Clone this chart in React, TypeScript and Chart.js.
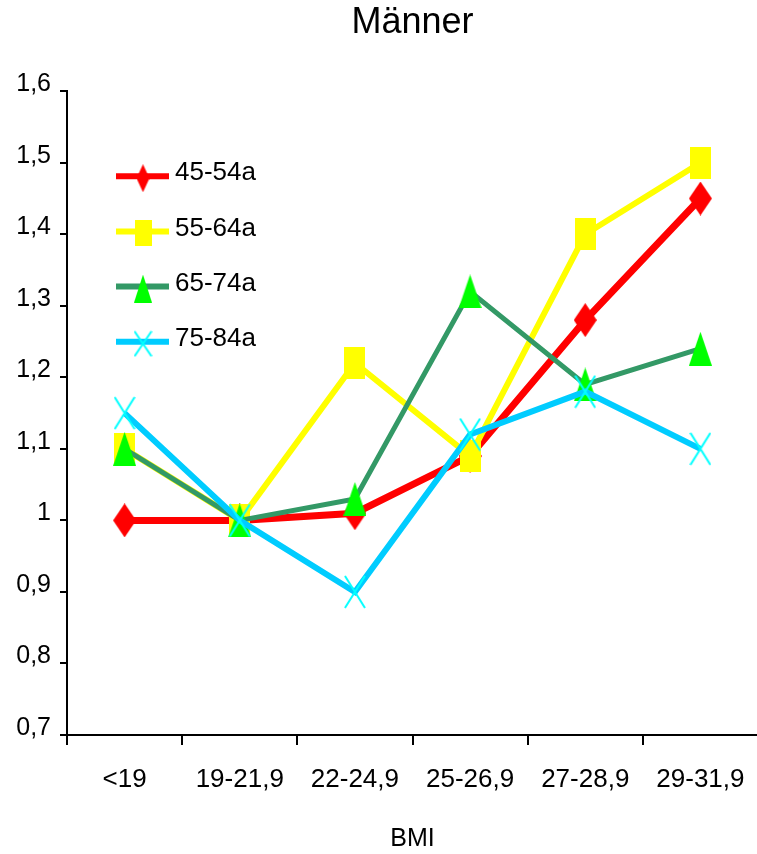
import React, { useEffect, useRef } from 'react';
import { Chart, registerables } from 'chart.js';

Chart.register(...registerables);

// ---- data ----
const chartTitle = 'Männer';
const xAxisTitle = 'BMI';
const categories = ['<19', '19-21,9', '22-24,9', '25-26,9', '27-28,9', '29-31,9'];
const seriesNames = ['45-54a', '55-64a', '65-74a', '75-84a'];
const age4554 = [1.0, 1.0, 1.01, 1.09, 1.28, 1.45];
const age5564 = [1.1, 1.0, 1.22, 1.09, 1.4, 1.5];
const age6574 = [1.1, 1.0, 1.03, 1.32, 1.19, 1.24];
const age7584 = [1.15, 1.0, 0.9, 1.12, 1.18, 1.1];
const yMin = 0.7;
const yMax = 1.6;
const yStep = 0.1;

const FONT = '"Liberation Sans", Arial, Helvetica, sans-serif';

type Shape = 'diamond' | 'square' | 'triangle' | 'cross';

function makeMarker(shape: Shape, w: number, h: number, color: string): HTMLCanvasElement {
  const c = document.createElement('canvas');
  c.width = w;
  c.height = h;
  const ctx = c.getContext('2d')!;
  ctx.fillStyle = color;
  ctx.strokeStyle = color;
  ctx.beginPath();
  if (shape === 'diamond') {
    ctx.moveTo(w / 2, 0);
    ctx.lineTo(w, h / 2);
    ctx.lineTo(w / 2, h);
    ctx.lineTo(0, h / 2);
    ctx.closePath();
    ctx.fill();
  } else if (shape === 'square') {
    ctx.fillRect(0, 0, w, h);
  } else if (shape === 'triangle') {
    ctx.moveTo(w / 2, 0);
    ctx.lineTo(w, h);
    ctx.lineTo(0, h);
    ctx.closePath();
    ctx.fill();
  } else {
    ctx.lineWidth = 2;
    ctx.moveTo(1, 1);
    ctx.lineTo(w - 1, h - 1);
    ctx.moveTo(w - 1, 1);
    ctx.lineTo(1, h - 1);
    ctx.stroke();
  }
  return c;
}

export default function App() {
  const ref = useRef<HTMLCanvasElement | null>(null);

  useEffect(() => {
    if (!ref.current) return;

    const styles = [
      { line: '#FF0000', fill: '#FF0000', shape: 'diamond' as Shape, width: 7, mw: 23, mh: 34, lw: 13, lh: 28 },
      { line: '#FFFF00', fill: '#FFFF00', shape: 'square' as Shape, width: 6, mw: 21, mh: 32, lw: 17, lh: 26 },
      { line: '#339966', fill: '#00FF00', shape: 'triangle' as Shape, width: 5, mw: 23, mh: 34, lw: 18, lh: 28 },
      { line: '#00CCFF', fill: '#00FFFF', shape: 'cross' as Shape, width: 6, mw: 22, mh: 34, lw: 19, lh: 27 },
    ];
    const seriesData = [age4554, age5564, age6574, age7584];

    const markers = styles.map((s) => makeMarker(s.shape, s.mw, s.mh, s.fill));
    const legendMarkers = styles.map((s) => makeMarker(s.shape, s.lw, s.lh, s.fill));

    const legendPlugin = {
      id: 'insideLegend',
      afterDraw(chart: any) {
        const ctx = chart.ctx as CanvasRenderingContext2D;
        const area = chart.chartArea;
        const x0 = area.left + 49;
        const x1 = area.left + 102;
        const mx = area.left + 76;
        const tx = area.left + 108;
        seriesNames.forEach((name, i) => {
          const y = area.top + 85 + i * 55.2;
          const s = styles[i];
          ctx.save();
          ctx.strokeStyle = s.line;
          ctx.lineWidth = 6;
          ctx.beginPath();
          ctx.moveTo(x0, y);
          ctx.lineTo(x1, y);
          ctx.stroke();
          const m = legendMarkers[i];
          ctx.drawImage(m, mx - m.width / 2, y - m.height / 2 + 2);
          ctx.fillStyle = '#000';
          ctx.font = `26px ${FONT}`;
          ctx.textBaseline = 'middle';
          ctx.textAlign = 'left';
          ctx.fillText(name, tx, y - 3);
          ctx.restore();
        });
      },
    };

    const chart = new Chart(ref.current, {
      type: 'line',
      data: {
        labels: categories,
        datasets: seriesNames.map((name, i) => ({
          label: name,
          data: seriesData[i],
          borderColor: styles[i].line,
          backgroundColor: styles[i].fill,
          borderWidth: styles[i].width,
          pointStyle: markers[i] as any,
          pointRadius: 5,
          pointHoverRadius: 5,
          tension: 0,
          fill: false,
          order: 4 - i,
        })),
      },
      options: {
        animation: false,
        responsive: false,
        maintainAspectRatio: false,
        events: [],
        layout: { padding: { left: 0, right: 7, top: 0, bottom: 0 } },
        plugins: {
          legend: { display: false },
          tooltip: { enabled: false },
          title: {
            display: true,
            text: chartTitle,
            fullSize: false,
            color: '#000',
            font: { family: FONT, size: 36, weight: 'normal' },
            padding: { top: 1, bottom: 47 },
          },
        },
        scales: {
          x: {
            type: 'category',
            offset: true,
            grid: {
              display: true,
              offset: true,
              drawOnChartArea: false,
              drawTicks: true,
              tickLength: 10,
              color: '#000',
              lineWidth: 2,
            },
            border: { display: true, color: '#000', width: 2 },
            ticks: {
              color: '#000',
              font: { family: FONT, size: 26 },
              padding: 19,
              maxRotation: 0,
              autoSkip: false,
            },
            title: {
              display: true,
              text: xAxisTitle,
              color: '#000',
              font: { family: FONT, size: 25 },
              padding: { top: 0, bottom: 0 },
            },
            afterFit(scale: any) {
              scale.height = 119;
            },
          },
          y: {
            type: 'linear',
            min: yMin,
            max: yMax,
            grid: {
              display: true,
              drawOnChartArea: false,
              drawTicks: true,
              tickLength: 7,
              color: '#000',
              lineWidth: 2,
            },
            border: { display: true, color: '#000', width: 2 },
            ticks: {
              stepSize: yStep,
              color: '#000',
              font: { family: FONT, size: 25 },
              padding: 9,
              labelOffset: -7,
              callback: (v: any) => String(Math.round(Number(v) * 10) / 10).replace('.', ','),
            },
            afterFit(scale: any) {
              scale.width = 67;
            },
          },
        },
      },
      plugins: [legendPlugin],
    } as any);

    return () => chart.destroy();
  }, []);

  return (
    <div
      style={{
        position: 'absolute',
        left: 0,
        top: 0,
        width: 757,
        height: 854,
        overflow: 'hidden',
        background: '#fff',
      }}
    >
      <canvas ref={ref} width={770} height={854} style={{ display: 'block', width: 770, height: 854 }} />
    </div>
  );
}
